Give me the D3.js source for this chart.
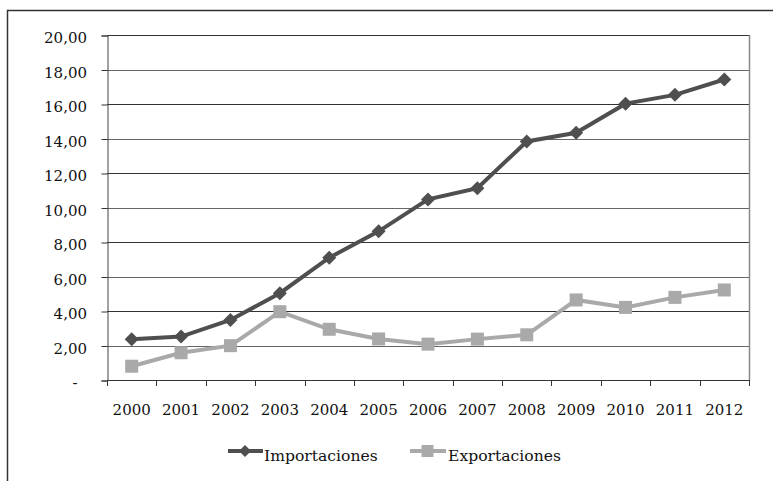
<!DOCTYPE html>
<html>
<head>
<meta charset="utf-8">
<script src="https://cdn.jsdelivr.net/npm/d3@7"></script>
<style>
html,body{margin:0;padding:0;background:#fff;}
svg{display:block;}
text{font-family:"DejaVu Serif",serif;font-size:15px;fill:#111;}
</style>
</head>
<body>
<svg id="chart" width="773" height="481"></svg>
<script>
const years = ["2000","2001","2002","2003","2004","2005","2006","2007","2008","2009","2010","2011","2012"];
const importaciones = [2.36, 2.52, 3.48, 5.03, 7.09, 8.62, 10.47, 11.12, 13.83, 14.33, 16.02, 16.53, 17.42];
const exportaciones = [0.80, 1.58, 1.99, 3.96, 2.94, 2.38, 2.08, 2.37, 2.62, 4.64, 4.21, 4.79, 5.22];
const yTicks = [0, 2, 4, 6, 8, 10, 12, 14, 16, 18, 20];
const seriesNames = ["Importaciones", "Exportaciones"];

(function () {
const svg = d3.select("#chart");
const pL = 107, pR = 749, pT = 35, pB = 380;

// outer frame
svg.append("path").attr("d", "M7.5,481 V10.5 H773").attr("fill","none").attr("stroke","#333").attr("stroke-width",1.5);

const x = d3.scaleBand().domain(years).range([pL, pR]).paddingInner(0).paddingOuter(0);
const y = d3.scaleLinear().domain([0, 20]).range([pB, pT]);

// gridlines
svg.append("g").selectAll("line").data(yTicks.filter(d => d > 0)).join("line")
  .attr("x1", pL).attr("x2", pR)
  .attr("y1", d => Math.round(y(d)) + 0.5).attr("y2", d => Math.round(y(d)) + 0.5)
  .attr("stroke", (d,i) => i % 2 ? "#333" : "#666").attr("stroke-width", 1);

// plot area right border
svg.append("line").attr("x1", pR + 0.5).attr("x2", pR + 0.5).attr("y1", pT).attr("y2", pB)
  .attr("stroke", "#888").attr("stroke-width", 1.5);

// y axis
const yAxis = d3.axisLeft(y).tickValues(yTicks).tickSize(6).tickFormat(() => "");
const gy = svg.append("g").attr("transform", `translate(${pL + 0.5},0.5)`).call(yAxis);
gy.select(".domain").attr("stroke", "#444");
gy.selectAll(".tick line").attr("stroke", "#333");
svg.append("g").selectAll("text").data(yTicks).join("text")
  .attr("x", d => d === 0 ? 75 : 87)
  .attr("y", d => y(d) + 8)
  .attr("text-anchor", d => d === 0 ? "middle" : "end")
  .text(d => d === 0 ? "-" : d3.format(".2f")(d).replace(".", ","));

// x axis
const xTickPos = years.map(d => x(d)).concat([pR]);
svg.append("line").attr("x1", pL).attr("x2", pR).attr("y1", pB + 0.5).attr("y2", pB + 0.5)
  .attr("stroke", "#333").attr("stroke-width", 1.2);
svg.append("g").selectAll("line").data(xTickPos).join("line")
  .attr("x1", d => Math.round(d) + 0.5).attr("x2", d => Math.round(d) + 0.5)
  .attr("y1", pB).attr("y2", pB + 6).attr("stroke", "#333");
svg.append("g").selectAll("text").data(years).join("text")
  .attr("x", d => x(d) + x.bandwidth() / 2)
  .attr("y", 415)
  .attr("text-anchor", "middle")
  .text(d => d);

const cx = d => x(d) + x.bandwidth() / 2;
const line = d3.line().x(d => cx(d[0])).y(d => y(d[1]));
const impColor = "#4f4f4f", expColor = "#a9a9a9";

// export series
const expData = years.map((d,i) => [d, exportaciones[i]]);
svg.append("path").datum(expData).attr("d", line).attr("fill","none").attr("stroke", expColor).attr("stroke-width", 4);
svg.append("g").selectAll("rect").data(expData).join("rect")
  .attr("x", d => cx(d[0]) - 6.5).attr("y", d => y(d[1]) - 6.5)
  .attr("width", 13).attr("height", 13).attr("fill", expColor);

// import series
const impData = years.map((d,i) => [d, importaciones[i]]);
const diamond = s => `M0,${-s} L${s},0 L0,${s} L${-s},0 Z`;
svg.append("path").datum(impData).attr("d", line).attr("fill","none").attr("stroke", impColor).attr("stroke-width", 4);
svg.append("g").selectAll("path").data(impData).join("path")
  .attr("transform", d => `translate(${cx(d[0])},${y(d[1])})`)
  .attr("d", diamond(7)).attr("fill", impColor);

// legend
const lg = svg.append("g");
lg.append("line").attr("x1", 228).attr("x2", 263).attr("y1", 451).attr("y2", 451).attr("stroke", impColor).attr("stroke-width", 4);
lg.append("path").attr("transform", "translate(245,451)").attr("d", diamond(6)).attr("fill", impColor);
lg.append("text").attr("x", 264).attr("y", 461).style("font-size", "15.6px").text(seriesNames[0]);
lg.append("line").attr("x1", 410).attr("x2", 446).attr("y1", 451).attr("y2", 451).attr("stroke", expColor).attr("stroke-width", 4);
lg.append("rect").attr("x", 421.5).attr("y", 445).attr("width", 12).attr("height", 12).attr("fill", expColor);
lg.append("text").attr("x", 448).attr("y", 461).style("font-size", "15.6px").text(seriesNames[1]);
})();
</script>
</body>
</html>
